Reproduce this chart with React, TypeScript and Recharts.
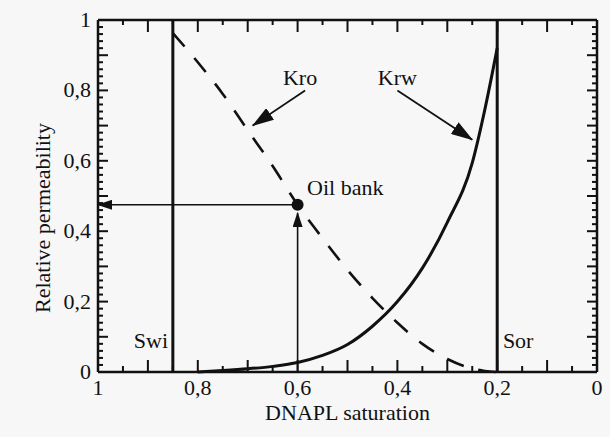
import React from "react";
import { LineChart, Line, XAxis, YAxis, ReferenceLine, ReferenceDot } from "recharts";

// DNAPL saturation (x) and relative permeabilities
const saturation = [0.85, 0.8, 0.75, 0.7, 0.65, 0.6, 0.55, 0.5, 0.45, 0.4, 0.35, 0.3, 0.25, 0.225, 0.2];
const kro = [0.963, 0.88, 0.79, 0.687, 0.585, 0.475, 0.38, 0.29, 0.21, 0.14, 0.08, 0.037, 0.01, 0.003, 0];
const krw = [null, 0, 0.004, 0.009, 0.016, 0.027, 0.047, 0.078, 0.13, 0.2, 0.295, 0.425, 0.594, 0.744, 0.92];

const swi = 0.85;
const sor = 0.2;
const oilBank = { x: 0.6, y: 0.475 };

const xLabelValues = [1, 0.8, 0.6, 0.4, 0.2, 0];
const xLabels = ["1", "0,8", "0,6", "0,4", "0,2", "0"];
const yLabelValues = [0, 0.2, 0.4, 0.6, 0.8, 1];
const yLabels = ["0", "0,2", "0,4", "0,6", "0,8", "1"];

// inward tick marks: every 0.05 on x, every 0.02 on y
const xTicks = Array.from({ length: 21 }, (_, i) => i / 20);
const yTicks = Array.from({ length: 51 }, (_, i) => i / 50);

const data = saturation.map((s, i) => ({ s, kro: kro[i], krw: krw[i] }));

const FONT = "Liberation Serif";
const INK = "#111";

const isMajor = (v: number) => Math.abs(v * 10 - Math.round(v * 10)) < 1e-6;
const labelFor = (v: number, vals: number[], labels: string[]) => {
  const i = vals.findIndex((d) => Math.abs(d - v) < 1e-6);
  return i >= 0 ? labels[i] : null;
};

const BottomLabel = (p: any) => {
  const lab = labelFor(p.payload.value, xLabelValues, xLabels);
  if (!lab) return <g />;
  return (
    <text x={p.x} y={p.y + 23} textAnchor="middle" fontFamily={FONT} fontSize={22} fill={INK}>
      {lab}
    </text>
  );
};

const LeftLabel = (p: any) => {
  const lab = labelFor(p.payload.value, yLabelValues, yLabels);
  if (!lab) return <g />;
  return (
    <text x={p.x - 7} y={p.y + 7} textAnchor="end" fontFamily={FONT} fontSize={22} fill={INK}>
      {lab}
    </text>
  );
};

// tick stub drawn from a data point in a given pixel direction
const stub = (dx: number, dy: number) => (p: any) =>
  <line x1={p.cx} y1={p.cy} x2={p.cx + dx} y2={p.cy + dy} stroke={INK} strokeWidth={2} />;

const arrow = (id: string, w = 1.6) => (p: any) =>
  <line x1={p.x1} y1={p.y1} x2={p.x2} y2={p.y2} stroke={INK} strokeWidth={w} markerEnd={`url(#${id})`} />;

const note = (text: string, anchor: "start" | "middle" = "middle") => (p: any) =>
  (
    <text x={p.cx} y={p.cy} textAnchor={anchor} dominantBaseline="central" fontFamily={FONT} fontSize={22} fill={INK}>
      {text}
    </text>
  );

export default function App() {
  return (
    <div style={{ position: "absolute", left: 0, top: 0, width: 610, height: 437, background: "#f7f7f7" }}>
      <LineChart width={610} height={437} data={data} margin={{ top: 20, right: 13, left: 38, bottom: 15 }}>
        <defs>
          <marker id="bigHead" markerUnits="userSpaceOnUse" markerWidth={22} markerHeight={14} refX={21} refY={7} orient="auto">
            <path d="M0,0 L22,7 L0,14 z" fill={INK} />
          </marker>
          <marker id="smallHead" markerUnits="userSpaceOnUse" markerWidth={15} markerHeight={10} refX={14} refY={5} orient="auto">
            <path d="M0,0 L15,5 L0,10 z" fill={INK} />
          </marker>
        </defs>
        <XAxis
          dataKey="s"
          type="number"
          domain={[0, 1]}
          reversed
          ticks={xTicks}
          interval={0}
          tickSize={0}
          tickMargin={0}
          tick={BottomLabel}
          height={50}
          axisLine={false}
          label={{ value: "DNAPL saturation", position: "insideBottom", offset: 2, fontFamily: FONT, fontSize: 22, fill: INK }}
        />
        <YAxis
          type="number"
          domain={[0, 1]}
          ticks={yTicks}
          interval={0}
          tickSize={0}
          tickMargin={0}
          tick={LeftLabel}
          width={60}
          axisLine={false}
          label={{
            content: (lp: any) => {
              const vb = lp.viewBox;
              const cx = vb.x + 4;
              const cy = vb.y + vb.height / 2 + 22;
              return (
                <text x={cx} y={cy} transform={`rotate(-90 ${cx} ${cy})`} textAnchor="middle" dominantBaseline="central" fontFamily={FONT} fontSize={22} fill={INK}>
                  Relative permeability
                </text>
              );
            },
          }}
        />

        {/* frame */}
        <ReferenceLine x={1} stroke={INK} strokeWidth={2.5} ifOverflow="visible" />
        <ReferenceLine x={0} stroke={INK} strokeWidth={2.5} ifOverflow="visible" />
        <ReferenceLine y={0} stroke={INK} strokeWidth={2.5} ifOverflow="visible" />
        <ReferenceLine y={1} stroke={INK} strokeWidth={2.5} ifOverflow="visible" />

        {/* inward ticks on all four sides */}
        {xTicks.map((v) => (
          <ReferenceDot key={`b${v}`} x={v} y={0} r={0} ifOverflow="visible" shape={stub(0, isMajor(v) ? -12 : -6)} />
        ))}
        {xTicks.map((v) => (
          <ReferenceDot key={`t${v}`} x={v} y={1} r={0} ifOverflow="visible" shape={stub(0, isMajor(v) ? 12 : 5)} />
        ))}
        {yTicks.map((v) => (
          <ReferenceDot key={`l${v}`} x={1} y={v} r={0} ifOverflow="visible" shape={stub(isMajor(v) ? 10 : 5, 0)} />
        ))}
        {yTicks.map((v) => (
          <ReferenceDot key={`r${v}`} x={0} y={v} r={0} ifOverflow="visible" shape={stub(isMajor(v) ? -10 : -5, 0)} />
        ))}

        <ReferenceLine x={swi} stroke={INK} strokeWidth={3} />
        <ReferenceLine x={sor} stroke={INK} strokeWidth={3} />

        <Line type="monotone" dataKey="kro" stroke={INK} strokeWidth={2.6} strokeDasharray="18 15" dot={false} isAnimationActive={false} />
        <Line type="monotone" dataKey="krw" stroke={INK} strokeWidth={3} dot={false} isAnimationActive={false} />

        <ReferenceLine segment={[{ x: oilBank.x, y: oilBank.y }, { x: 1, y: oilBank.y }]} shape={arrow("smallHead")} />
        <ReferenceLine segment={[{ x: oilBank.x, y: 0 }, { x: oilBank.x, y: 0.452 }]} shape={arrow("smallHead")} />
        <ReferenceDot x={oilBank.x} y={oilBank.y} r={6} fill={INK} stroke="none" />

        <ReferenceLine segment={[{ x: 0.585, y: 0.8 }, { x: 0.69, y: 0.7 }]} shape={arrow("bigHead", 1.8)} />
        <ReferenceLine segment={[{ x: 0.4, y: 0.8 }, { x: 0.25, y: 0.66 }]} shape={arrow("bigHead", 1.8)} />

        <ReferenceDot x={0.595} y={0.838} r={0} shape={note("Kro")} />
        <ReferenceDot x={0.4} y={0.838} r={0} shape={note("Krw")} />
        <ReferenceDot x={0.581} y={0.523} r={0} shape={note("Oil bank", "start")} />
        <ReferenceDot x={0.894} y={0.09} r={0} shape={note("Swi")} />
        <ReferenceDot x={0.158} y={0.09} r={0} shape={note("Sor")} />
      </LineChart>
    </div>
  );
}
